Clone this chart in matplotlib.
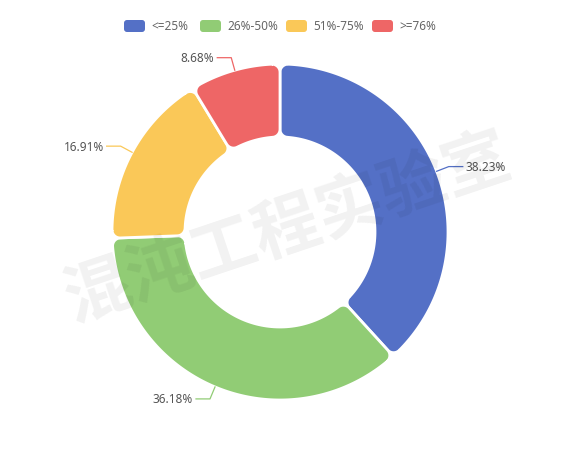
import numpy as np
import matplotlib
matplotlib.use("Agg")
import matplotlib.pyplot as plt
from matplotlib.patches import Polygon, FancyBboxPatch

# data
categories = ["<=25%", "26%-50%", "51%-75%", ">=76%"]
shares = [38.23, 36.18, 16.91, 8.68]
labels = ["38.23%", "36.18%", "16.91%", "8.68%"]
colors = ["#5470c6", "#91cc75", "#fac858", "#ee6666"]

W, H = 574, 464
CX, CY = 280, H - 233
R_OUT, R_IN = 168, 95
CORNER = 8

plt.rcParams["font.family"] = ["Noto Sans", "DejaVu Sans"]

fig = plt.figure(figsize=(W / 100, H / 100), dpi=100)
ax = fig.add_axes([0, 0, 1, 1])
ax.set_xlim(0, W)
ax.set_ylim(0, H)
ax.axis("off")


def arc(cx, cy, r, a0, a1, n=60):
    t = np.radians(np.linspace(a0, a1, n))
    return np.column_stack([cx + r * np.cos(t), cy + r * np.sin(t)])


def rounded_sector(lo, hi, r_in, r_out, c):
    # annular sector between angles lo < hi (deg), rounded corners
    d_o = r_out - c
    d_i = r_in + c
    ao = np.degrees(np.arcsin(c / d_o))
    ai = np.degrees(np.arcsin(c / d_i))
    pts = []
    cx1, cy1 = CX + d_o * np.cos(np.radians(lo + ao)), CY + d_o * np.sin(np.radians(lo + ao))
    pts.append(arc(cx1, cy1, c, lo - 90, lo + ao, 12))
    pts.append(arc(CX, CY, r_out, lo + ao, hi - ao, 120))
    cx2, cy2 = CX + d_o * np.cos(np.radians(hi - ao)), CY + d_o * np.sin(np.radians(hi - ao))
    pts.append(arc(cx2, cy2, c, hi - ao, hi + 90, 12))
    cx3, cy3 = CX + d_i * np.cos(np.radians(hi - ai)), CY + d_i * np.sin(np.radians(hi - ai))
    pts.append(arc(cx3, cy3, c, hi + 90, hi - ai + 180, 12))
    pts.append(arc(CX, CY, r_in, hi - ai, lo + ai, 80))
    cx4, cy4 = CX + d_i * np.cos(np.radians(lo + ai)), CY + d_i * np.sin(np.radians(lo + ai))
    pts.append(arc(cx4, cy4, c, lo + ai + 180, lo + 270, 12))
    return np.vstack(pts)


total = sum(shares)
start = 90.0
for val, lab, col in zip(shares, labels, colors):
    sweep = 360.0 * val / total
    hi = start
    lo = start - sweep
    poly = Polygon(rounded_sector(lo, hi, R_IN, R_OUT, CORNER), closed=True,
                   facecolor=col, edgecolor="white", linewidth=2.0, zorder=2)
    ax.add_patch(poly)

    # label with leader line
    mid = np.radians((lo + hi) / 2)
    x1, y1 = CX + R_OUT * np.cos(mid), CY + R_OUT * np.sin(mid)
    x2, y2 = CX + (R_OUT + 13) * np.cos(mid), CY + (R_OUT + 13) * np.sin(mid)
    side = 1 if np.cos(mid) >= 0 else -1
    x3 = x2 + side * 14
    ax.plot([x1, x2, x3], [y1, y2, y2], color=col, lw=0.9, zorder=3)
    ax.text(x3 + side * 3, y2, lab, ha="left" if side > 0 else "right",
            va="center", fontsize=8.5, color="#555555", zorder=4)
    start = lo

# legend
legend_x = [124, 200, 286, 372]
for x0, cat, col in zip(legend_x, categories, colors):
    ax.add_patch(FancyBboxPatch((x0, H - 33), 21, 12,
                                boxstyle="round,pad=0,rounding_size=3",
                                facecolor=col, edgecolor="none", zorder=4))
    ax.text(x0 + 27, H - 27, cat, ha="left", va="center",
            fontsize=8.5, color="#666666", zorder=4)

# watermark
ax.text(288, H - 229, "混沌工程实验室", rotation=18.5, ha="center", va="center",
        fontsize=48, fontweight="bold", color="black", alpha=0.055,
        family=["Noto Sans CJK SC", "DejaVu Sans"], zorder=10)

plt.savefig("out.png", dpi=100)
